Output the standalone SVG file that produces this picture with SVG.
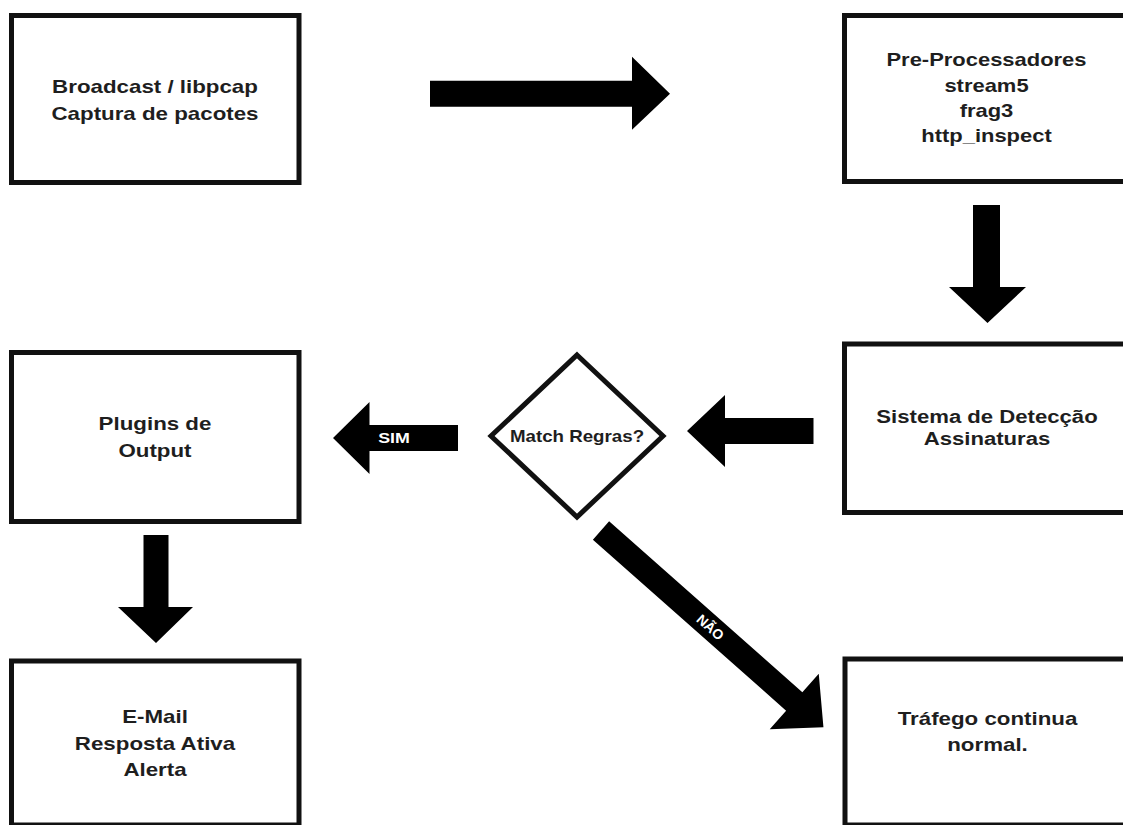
<svg xmlns="http://www.w3.org/2000/svg" width="1123" height="825" viewBox="0 0 1123 825">
<style>
.box{fill:#fff;stroke:#111;stroke-width:5}
.dia{fill:#fff;stroke:#111;stroke-width:5;stroke-linejoin:miter}
.lbl{font-family:"Liberation Sans",Arial,sans-serif;font-weight:bold;font-size:18px;fill:#1e1e1e;text-anchor:middle}
.arr{fill:#000}
.wl{font-family:"Liberation Sans",Arial,sans-serif;font-weight:bold;fill:#fff;text-anchor:middle}
</style>
<rect width="1123" height="825" fill="#fff"/>
<g id="n-broadcast">
<rect class="box" x="11.5" y="15.5" width="287.5" height="167"/>
<text class="lbl" transform="matrix(1.24 0 0 1 155 0)"><tspan x="0" y="93">Broadcast / libpcap</tspan><tspan x="0" y="120">Captura de pacotes</tspan></text>
</g>
<g id="n-preproc">
<rect class="box" x="844.5" y="15.5" width="300" height="166"/>
<text class="lbl" transform="matrix(1.22 0 0 1 986.5 0)"><tspan x="0" y="66">Pre-Processadores</tspan><tspan x="0" y="92">stream5</tspan><tspan x="0" y="117">frag3</tspan><tspan x="0" y="142">http_inspect</tspan></text>
</g>
<g id="n-deteccao">
<rect class="box" x="844.5" y="344" width="300" height="168.5"/>
<text class="lbl" transform="matrix(1.23 0 0 1 987 0)"><tspan x="0" y="423.5">Sistema de Detecção</tspan><tspan x="0" y="445.5">Assinaturas</tspan></text>
</g>
<g id="n-match">
<polygon class="dia" points="577,355 663,436 577,517 491,436"/>
<text class="lbl" style="font-size:16px" transform="matrix(1.17 0 0 1 577 0)"><tspan x="0" y="442">Match Regras?</tspan></text>
</g>
<g id="n-plugins">
<rect class="box" x="11.5" y="352.5" width="287.5" height="169"/>
<text class="lbl" transform="matrix(1.24 0 0 1 155 0)"><tspan x="0" y="430">Plugins de</tspan><tspan x="0" y="457">Output</tspan></text>
</g>
<g id="n-email">
<rect class="box" x="11.5" y="661" width="287.5" height="164"/>
<text class="lbl" transform="matrix(1.24 0 0 1 155 0)"><tspan x="0" y="723.5">E-Mail</tspan><tspan x="0" y="750">Resposta Ativa</tspan><tspan x="0" y="776.5">Alerta</tspan></text>
</g>
<g id="n-trafego">
<rect class="box" x="845" y="659" width="300" height="166"/>
<text class="lbl" transform="matrix(1.24 0 0 1 987.5 0)"><tspan x="0" y="725">Tráfego continua</tspan><tspan x="0" y="751.5">normal.</tspan></text>
</g>
<g id="connectors">
<polygon class="arr" points="430,80.7 632,80.7 632,56.7 670,93.7 632,129.7 632,106.7 430,106.7"/>
<polygon class="arr" points="973,205 1000,205 1000,287 1026,287 987.5,323 949,287 973,287"/>
<polygon class="arr" points="813.5,418 725,418 725,395 687,431 725,467 725,444 813.5,444"/>
<polygon class="arr" points="458,425 369.5,425 369.5,402 333,438 369.5,474 369.5,451 458,451"/>
<text class="wl" style="font-size:15px" transform="matrix(1.19 0 0 1 394 0)"><tspan x="0" y="443.5">SIM</tspan></text>
<polygon class="arr" points="143.5,535 168.5,535 168.5,607 193,607 156,643 118,607 143.5,607"/>
<g transform="translate(601 530.5) rotate(41.5)">
<polygon class="arr" points="0,-12.25 258,-12.25 258,-37 297,0 258,37 258,12.25 0,12.25"/>
<text class="wl" style="font-size:14px" x="146" y="5">NÃO</text>
</g>
</g>
</svg>
